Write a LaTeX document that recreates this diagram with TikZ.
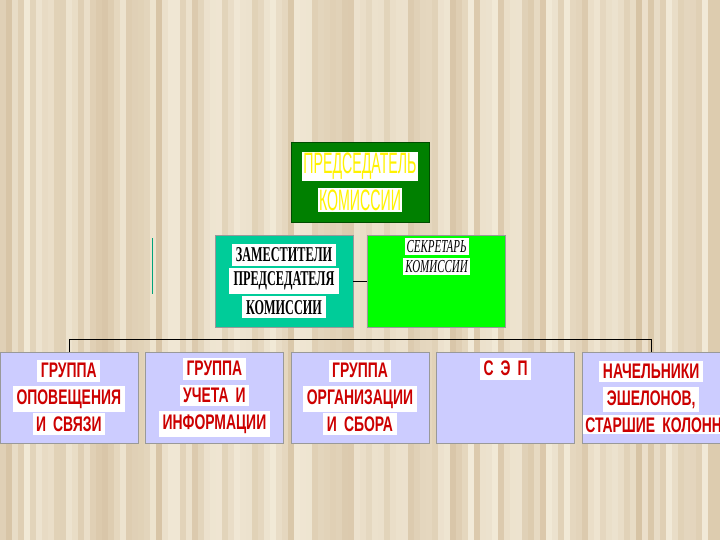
\documentclass[tikz,border=0pt]{standalone}
\usepackage{fontspec}
\setmainfont{Liberation Serif}
\newfontfamily\chairfont[FakeStretch=0.48]{Liberation Sans}
\newfontfamily\groupfont[FakeStretch=0.66, WordSpace=0.6]{Liberation Sans}
\newfontfamily\deputyfont[FakeStretch=0.58]{Liberation Serif}
\newfontfamily\secfont[FakeStretch=0.6]{Liberation Serif}
\usetikzlibrary{positioning}

\definecolor{woodlight}{RGB}{242,234,216}
\definecolor{wooddark}{RGB}{196,168,128}
\definecolor{chairgreen}{RGB}{0,128,0}
\definecolor{deputyteal}{RGB}{0,204,153}
\definecolor{seclime}{RGB}{0,255,0}
\definecolor{groupblue}{RGB}{204,204,255}
\definecolor{groupred}{RGB}{204,0,0}

% white strip behind every text line
\newcommand{\hl}[2][2.5pt]{{\setlength{\fboxsep}{#1}\colorbox{white}{#2}}}

\begin{document}
\begin{tikzpicture}[
    x=0.025cm, y=-0.025cm,
    node distance=0.175cm,
    box/.style={rectangle, draw=gray!80, minimum width=3.45cm, inner sep=0pt, text width=3.4cm, align=center},
    chairbox/.style={box, fill=chairgreen, draw=green!30!black, minimum height=2cm, text=yellow, font={\chairfont\fontsize{21pt}{22pt}\selectfont}},
    deputybox/.style={box, fill=deputyteal, minimum height=2.3cm, font={\deputyfont\bfseries\fontsize{15pt}{16pt}\selectfont}},
    secbox/.style={box, fill=seclime, minimum height=2.3cm, font={\secfont\itshape\fontsize{13pt}{14.5pt}\selectfont}},
    groupbox/.style={box, fill=groupblue, minimum height=2.275cm, text=groupred, font={\groupfont\bfseries\fontsize{15pt}{19pt}\selectfont}},
    link/.style={draw, thin}
]
    % Background
    \useasboundingbox (0,0) rectangle (720,540);
    \fill[woodlight] (0,0) rectangle (720,540);
    \pgfmathsetseed{11}
    \foreach \i in {0,...,119}{
        \pgfmathtruncatemacro{\shade}{rnd*60}
        \fill[wooddark!\shade!woodlight] (\i*6,0) rectangle ++(6,540);
    }

    % Top
    \node[chairbox] (chair) at (360,182) {\hl[1pt]{ПРЕДСЕДАТЕЛЬ}\\[4pt]\hl[1pt]{КОМИССИИ}};
    \node[deputybox] (deputy) at (284,281) {\hl[3pt]{ЗАМЕСТИТЕЛИ}\\\hl[3pt]{ПРЕДСЕДАТЕЛЯ}\\\hl[3pt]{КОМИССИИ}};
    \node[secbox, right=0.35cm of deputy] (secretary) {\hl[1.5pt]{СЕКРЕТАРЬ}\\\hl[1.5pt]{КОМИССИИ}\\[22pt]\mbox{}};

    % Groups
    \node[groupbox] (g3) at (360,397.5) {\hl{ГРУППА}\\\hl{ОРГАНИЗАЦИИ}\\\hl{И СБОРА}};
    \node[groupbox, left=of g3] (g2) {\hl{ГРУППА}\\\hl{УЧЕТА И}\\\hl{ИНФОРМАЦИИ}};
    \node[groupbox, left=of g2] (g1) {\hl{ГРУППА}\\\hl{ОПОВЕЩЕНИЯ}\\\hl{И СВЯЗИ}};
    \node[groupbox, right=of g3] (g4) {\hl{С Э П}\\\strut\\\strut};
    \node[groupbox, right=of g4] (g5) {\hl{НАЧЕЛЬНИКИ}\\\hl{ЭШЕЛОНОВ,}\\\hl[1.5pt]{СТАРШИЕ КОЛОНН}};

    % Connections
    \draw[link] (deputy) -- (secretary);
    \draw[link] (g1.north) -- ++(0,-12) -| (g5.north);

    % stray mark
    \draw[deputyteal!80!black, thin] (152,238) -- (152,294);

\end{tikzpicture}
\end{document}
